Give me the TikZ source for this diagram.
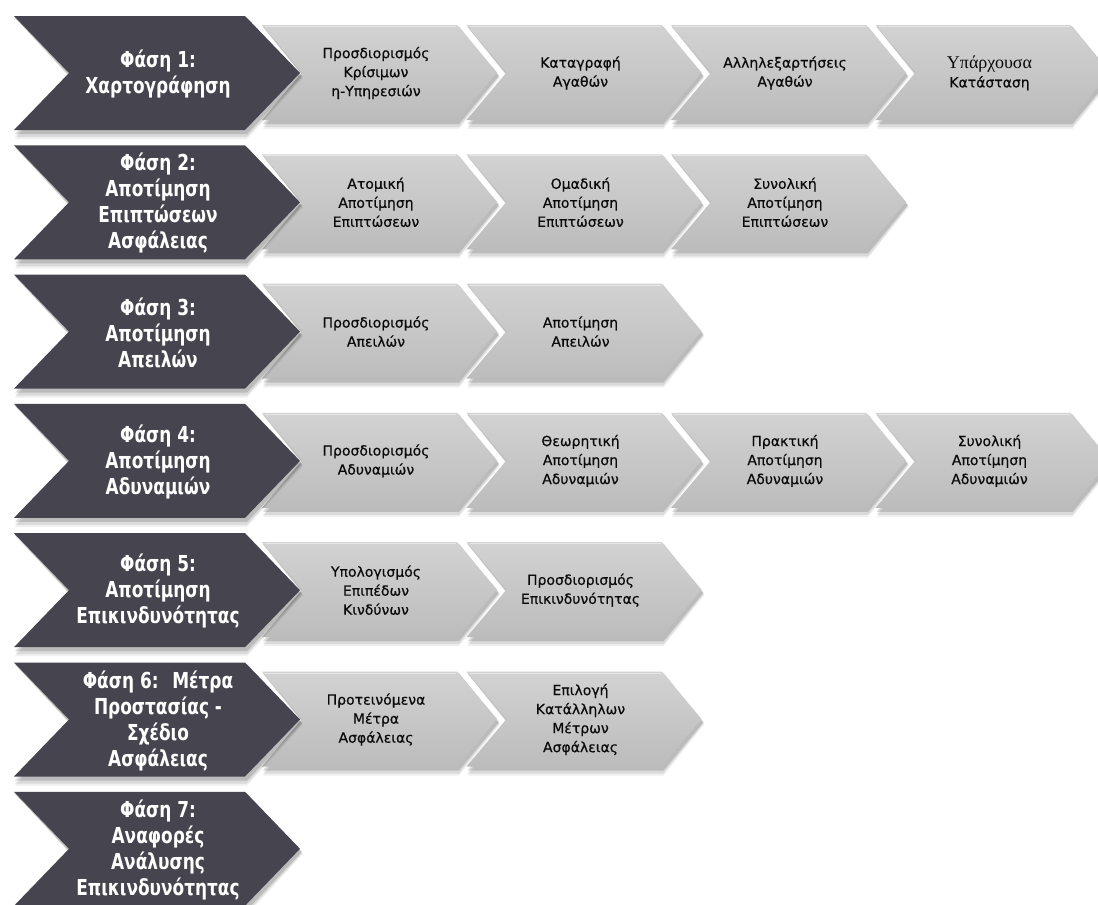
\documentclass[tikz,border=0pt]{standalone}
\usepackage{fontspec}
\setmainfont{DejaVu Sans}
\newfontfamily\phasefont[FakeStretch=0.77]{DejaVu Sans}
\newfontfamily\stepfont[FakeBold=0.5]{DejaVu Sans}
\newfontfamily\grserif{Liberation Serif}
\usetikzlibrary{calc}

\definecolor{phasefill}{HTML}{46454F}
\definecolor{steptop}{HTML}{D2D2D2}
\definecolor{stepbot}{HTML}{BCBCBC}
\definecolor{steptext}{HTML}{0A0A0A}

% chevron outline: left x, top y, top length, height, point depth
\newcommand\chevron[5]{(#1,#2) -- ++({#3},0) -- ++({#5},{(#4)/2}) -- ++({-(#5)},{(#4)/2}) -- ++({-(#3)},0) -- ++({#5},{-(#4)/2}) -- cycle}

% soft shadow under a chevron
\newcommand\chevshadow[5]{%
  \fill[black,opacity=0.06] \chevron{#1+1}{#2+1}{#3+1}{#4+8}{#5+1};
  \fill[black,opacity=0.09] \chevron{#1+1}{#2+2}{#3+1}{#4+5}{#5};
  \fill[black,opacity=0.14] \chevron{#1+1}{#2+2}{#3+1}{#4+2}{#5};
}

% phase chevron (dark) with its title
\newcommand\phase[3]{%
  \pgfmathsetmacro\ptop{16+129.3*(#1-1)}
  \chevshadow{14}{\ptop}{231}{114}{55}
  \fill[phasefill] \chevron{14}{\ptop}{231}{114}{55};
  \node[phasetext] (#2) at (158,\ptop+58) {#3};
}

% step chevron (light grey) with its label
\newcommand\stepchev[4]{%
  \pgfmathsetmacro\stop{25+129.3*(#1-1)}
  \pgfmathsetmacro\sx{262+204.5*(#2-1)}
  \chevshadow{\sx}{\stop}{195}{95}{40}
  \shade[top color=steptop,bottom color=stepbot] \chevron{\sx}{\stop}{195}{95}{40};
  \draw[white,opacity=0.45,line width=1pt] (\sx+3,\stop+1.5) -- (\sx+194,\stop+1.5);
  \node[steptext] (#3) at (\sx+114,\stop+48) {#4};
}

\tikzset{
  x=1pt, y=-1pt,
  phasetext/.style={text=white, font=\phasefont\bfseries\fontsize{22}{26}\selectfont, align=center, inner sep=0pt},
  steptext/.style={text=steptext, font=\stepfont\fontsize{14}{19}\selectfont, align=center, inner sep=0pt}
}

\begin{document}
\begin{tikzpicture}
\clip (0,0) rectangle (1098,905);
\fill[white] (0,0) rectangle (1098,905);

% row 1 (steps first so the phase chevron lies on top)
\stepchev{1}{4}{s14}{\grserif\fontsize{18}{21}\selectfont Υπάρχουσα\\Κατάσταση}
\stepchev{1}{3}{s13}{Αλληλεξαρτήσεις\\Αγαθών}
\stepchev{1}{2}{s12}{Καταγραφή\\Αγαθών}
\stepchev{1}{1}{s11}{Προσδιορισμός\\Κρίσιμων\\η-Υπηρεσιών}
\phase{1}{p1}{Φάση 1:\\Χαρτογράφηση}

% row 2
\stepchev{2}{3}{s23}{Συνολική\\Αποτίμηση\\Επιπτώσεων}
\stepchev{2}{2}{s22}{Ομαδική\\Αποτίμηση\\Επιπτώσεων}
\stepchev{2}{1}{s21}{Ατομική\\Αποτίμηση\\Επιπτώσεων}
\phase{2}{p2}{Φάση 2:\\Αποτίμηση\\Επιπτώσεων\\Ασφάλειας}

% row 3
\stepchev{3}{2}{s32}{Αποτίμηση\\Απειλών}
\stepchev{3}{1}{s31}{Προσδιορισμός\\Απειλών}
\phase{3}{p3}{Φάση 3:\\Αποτίμηση\\Απειλών}

% row 4
\stepchev{4}{4}{s44}{Συνολική\\Αποτίμηση\\Αδυναμιών}
\stepchev{4}{3}{s43}{Πρακτική\\Αποτίμηση\\Αδυναμιών}
\stepchev{4}{2}{s42}{Θεωρητική\\Αποτίμηση\\Αδυναμιών}
\stepchev{4}{1}{s41}{Προσδιορισμός\\Αδυναμιών}
\phase{4}{p4}{Φάση 4:\\Αποτίμηση\\Αδυναμιών}

% row 5
\stepchev{5}{2}{s52}{Προσδιορισμός\\Επικινδυνότητας}
\stepchev{5}{1}{s51}{Υπολογισμός\\Επιπέδων\\Κινδύνων}
\phase{5}{p5}{Φάση 5:\\Αποτίμηση\\Επικινδυνότητας}

% row 6
\stepchev{6}{2}{s62}{Επιλογή\\Κατάλληλων\\Μέτρων\\Ασφάλειας}
\stepchev{6}{1}{s61}{Προτεινόμενα\\Μέτρα\\Ασφάλειας}
\phase{6}{p6}{Φάση 6:~ Μέτρα\\Προστασίας -\\Σχέδιο\\Ασφάλειας}

% row 7
\phase{7}{p7}{Φάση 7:\\Αναφορές\\Ανάλυσης\\Επικινδυνότητας}
\end{tikzpicture}
\end{document}
